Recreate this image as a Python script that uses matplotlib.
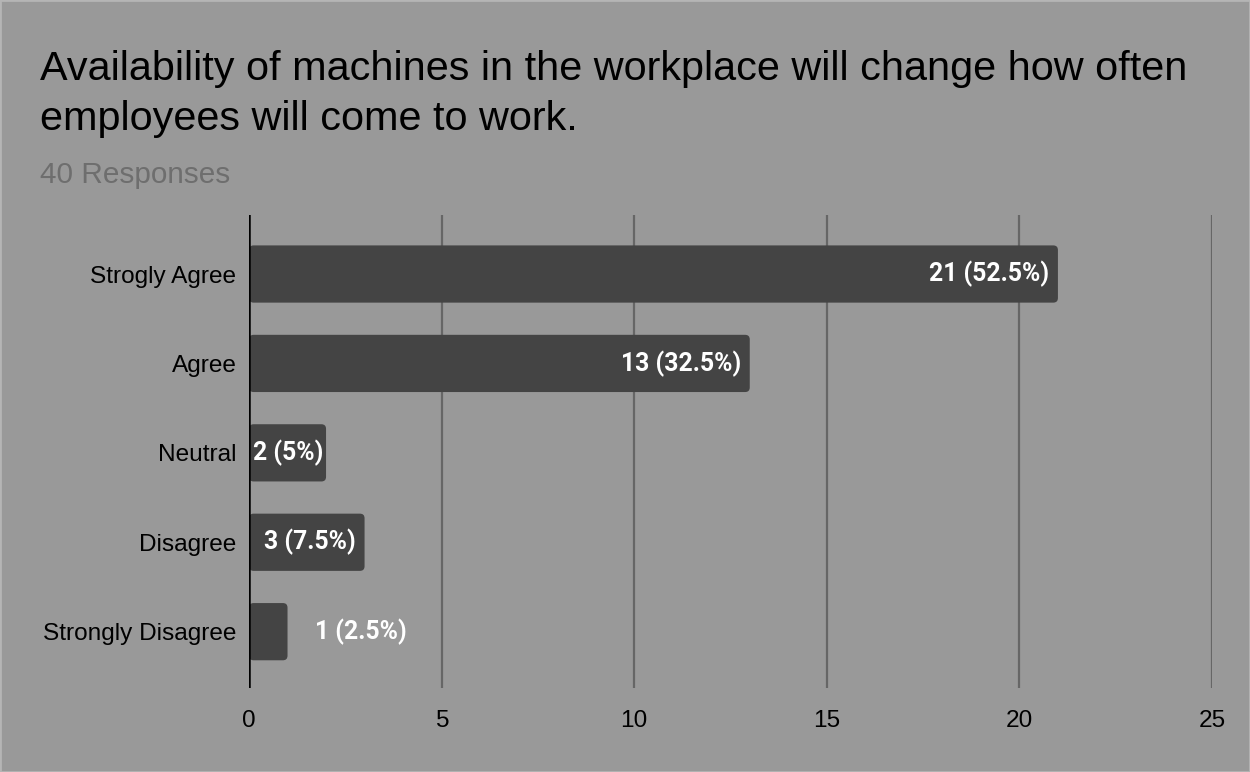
import matplotlib
matplotlib.use('Agg')
import matplotlib.pyplot as plt
import matplotlib.transforms as mtransforms
from matplotlib.patches import FancyBboxPatch

# survey results
categories = ['Strogly Agree', 'Agree', 'Neutral', 'Disagree', 'Strongly Disagree']
counts = [21, 13, 2, 3, 1]
total = 40
xticks = [0, 5, 10, 15, 20, 25]

title = 'Availability of machines in the workplace will change how often\nemployees will come to work.'
subtitle = '40 Responses'

bg = '#999999'
bar_color = '#444444'
grid_color = '#666666'

plt.rcParams['font.family'] = ['Liberation Sans', 'DejaVu Sans']

fig = plt.figure(figsize=(12.5, 7.72), dpi=100, facecolor=bg)
ax = fig.add_axes([0.1992, 0.1088, 0.7704, 0.6127])
ax.set_facecolor(bg)

ax.set_xlim(0, 25)
ax.set_ylim(4.63, -0.66)

bar_h = 0.64
lbl_font = ['Roboto', 'DejaVu Sans']
renderer = fig.canvas.get_renderer()
axis_px = ax.transData.transform((0, 0))[0]
for i, v in enumerate(counts):
    # rounded bar, squashed corners to account for unequal axis scales
    p = FancyBboxPatch((0, i - bar_h / 2), v, bar_h,
                       boxstyle='round,pad=0,rounding_size=0.12',
                       mutation_aspect=0.43, facecolor=bar_color,
                       edgecolor='none', zorder=3)
    ax.add_patch(p)
    pct = v / total * 100
    lbl = '{} ({:g}%)'.format(v, pct)
    if v > 1:
        t = ax.text(v - 0.22, i, lbl, ha='right', va='center', color='white',
                    fontsize=17.8, fontweight='bold', family=lbl_font, zorder=4)
        # keep the label clear of the zero line on short bars
        bb = t.get_window_extent(renderer)
        if bb.x0 < axis_px + 4:
            dx = (axis_px + 4 - bb.x0) / fig.dpi
            t.set_transform(mtransforms.offset_copy(ax.transData, fig=fig, x=dx, y=0, units='inches'))
    else:
        ax.text(v + 0.72, i, lbl, ha='left', va='center', color='white',
                fontsize=17.8, fontweight='bold', family=lbl_font, zorder=4)

ax.set_xticks(xticks)
ax.set_xticklabels([str(t) for t in xticks], fontsize=17.6)
ax.set_yticks(range(len(categories)))
ax.set_yticklabels(categories, fontsize=17.6)
ax.tick_params(length=0, pad=9)
ax.tick_params(axis='x', pad=16)

for t in xticks[1:]:
    ax.axvline(t, color=grid_color, lw=1.6, zorder=1)
ax.axvline(0, color='black', lw=1.8, zorder=5)
for s in ax.spines.values():
    s.set_visible(False)

fig.text(40 / 1250, 1 - 50 / 772, title, fontsize=29.8, color='black',
         ha='left', va='top', linespacing=1.4)
fig.text(40 / 1250, 1 - 161 / 772, subtitle, fontsize=21.4, color='#6e6e6e',
         ha='left', va='top')

# thin light frame around the figure
fig.patches.append(plt.Rectangle((0, 0), 1, 1, transform=fig.transFigure,
                                 fill=False, edgecolor='#b5b5b5', lw=2))

fig.savefig('out.png', dpi=100, facecolor=bg)
